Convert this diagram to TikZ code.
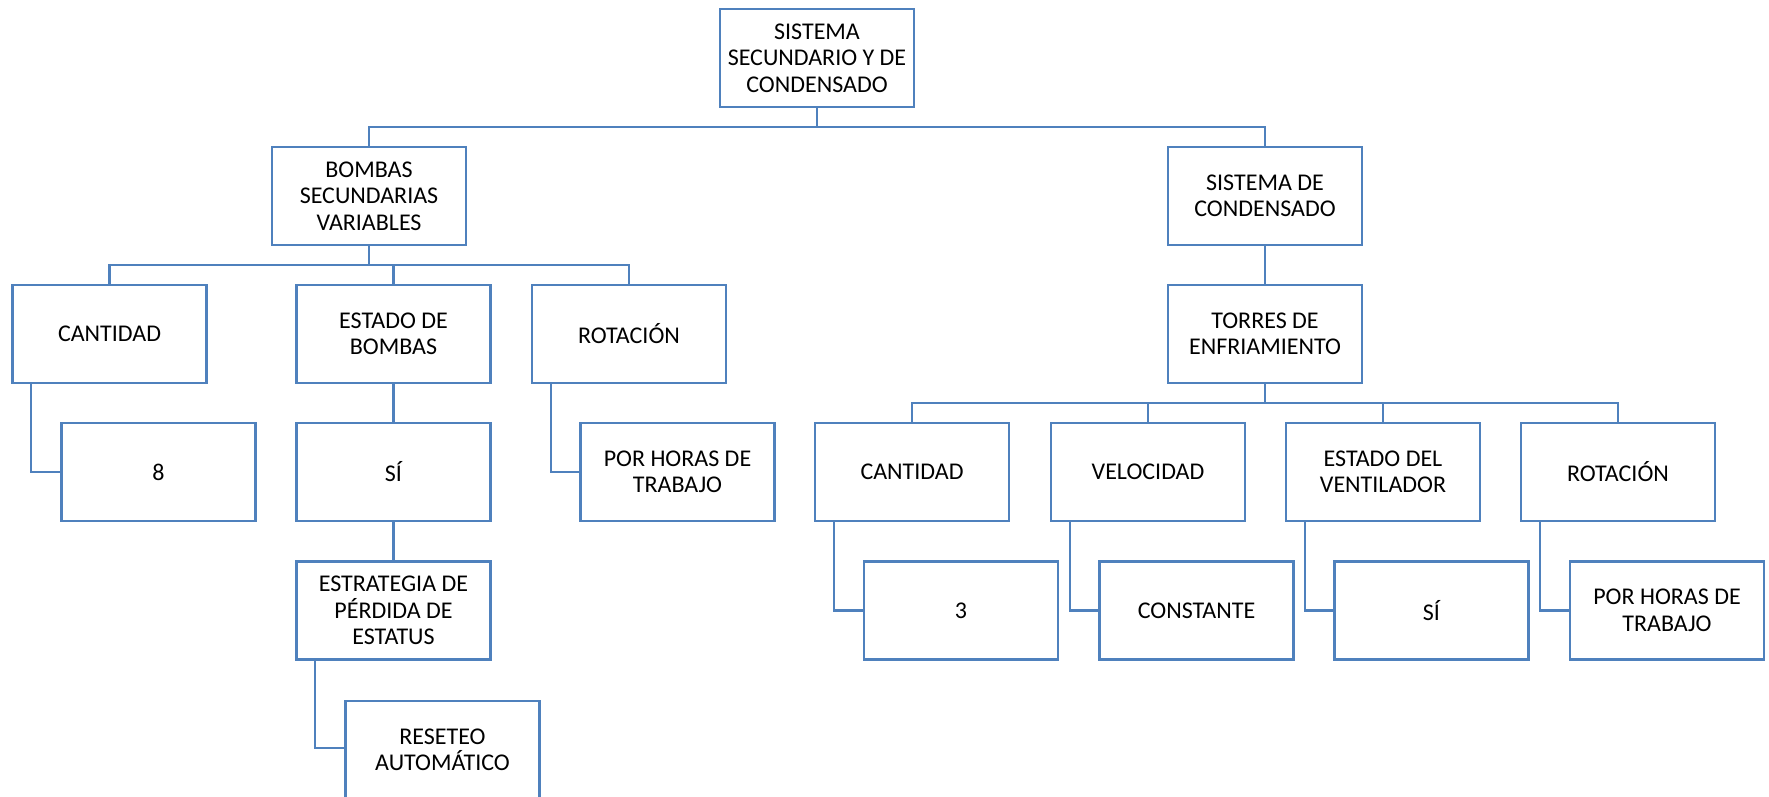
\documentclass[tikz,border=0pt]{standalone}
\usepackage{fontspec}
\setmainfont{Carlito}
\definecolor{lineblue}{RGB}{79,129,189}
\tikzset{
  box/.style={draw=lineblue, line width=2.6pt, fill=white, minimum width=194pt, minimum height=98pt,
    inner sep=2pt, align=center, font=\fontsize{24}{26.5}\selectfont, text=black},
  conn/.style={draw=lineblue, line width=2.2pt}
}
\begin{document}
\begin{tikzpicture}[x=1pt,y=-1pt]
\useasboundingbox (0,0) rectangle (1769,796);
\clip (0,0) rectangle (1769,796);
\coordinate (busA) at (0,127);
\coordinate (busB) at (0,265);
\coordinate (busC) at (0,403);
\node[box] (top) at (817,58) {SISTEMA\\SECUNDARIO Y DE\\CONDENSADO};
\node[box] (bombas) at (369,196) {BOMBAS\\SECUNDARIAS\\VARIABLES};
\node[box] (sc) at (1265,196) {SISTEMA DE\\CONDENSADO};
\node[box] (cant1) at (109.5,334) {CANTIDAD};
\node[box] (est1) at (393.5,334) {ESTADO DE\\BOMBAS};
\node[box] (rot1) at (629,334) {ROTACIÓN};
\node[box] (n8) at (158.5,472) {8};
\node[box] (si1) at (393.5,472) {SÍ};
\node[box] (por1) at (677.5,472) {POR HORAS DE\\TRABAJO};
\node[box] (estr) at (393.5,610.5) {ESTRATEGIA DE\\PÉRDIDA DE\\ESTATUS};
\node[box] (reset) at (442.5,750) {RESETEO\\AUTOMÁTICO};
\node[box] (torres) at (1265,334) {TORRES DE\\ENFRIAMIENTO};
\node[box] (cant2) at (912,472) {CANTIDAD};
\node[box] (vel) at (1148,472) {VELOCIDAD};
\node[box] (estv) at (1383,472) {ESTADO DEL\\VENTILADOR};
\node[box] (rot2) at (1618,472) {ROTACIÓN};
\node[box] (n3) at (961,610.5) {3};
\node[box] (const) at (1196.5,610.5) {CONSTANTE};
\node[box] (si2) at (1431.5,610.5) {SÍ};
\node[box] (por2) at (1667,610.5) {POR HORAS DE\\TRABAJO};
% tree connectors
\draw[conn] (top.south) -- (top.south |- busA) -| (bombas.north);
\draw[conn] (top.south |- busA) -| (sc.north);
\draw[conn] (bombas.south) -- (bombas.south |- busB) -| (cant1.north);
\draw[conn] (bombas.south |- busB) -| (rot1.north);
\draw[conn] (est1.north) -- (est1.north |- busB);
\draw[conn] (est1.south) -- (si1.north);
\draw[conn] (si1.south) -- (estr.north);
\draw[conn] (sc.south) -- (torres.north);
\draw[conn] (torres.south) -- (torres.south |- busC) -| (cant2.north);
\draw[conn] (torres.south |- busC) -| (rot2.north);
\draw[conn] (vel.north) -- (vel.north |- busC);
\draw[conn] (estv.north) -- (estv.north |- busC);
% elbow connectors
\draw[conn] ([xshift=20pt]cant1.south west) |- (n8.west);
\draw[conn] ([xshift=20pt]rot1.south west) |- (por1.west);
\draw[conn] ([xshift=20pt]estr.south west) |- ([yshift=2pt]reset.west);
\draw[conn] ([xshift=20pt]cant2.south west) |- (n3.west);
\draw[conn] ([xshift=20pt]vel.south west) |- (const.west);
\draw[conn] ([xshift=20pt]estv.south west) |- (si2.west);
\draw[conn] ([xshift=20pt]rot2.south west) |- (por2.west);
\end{tikzpicture}
\end{document}
